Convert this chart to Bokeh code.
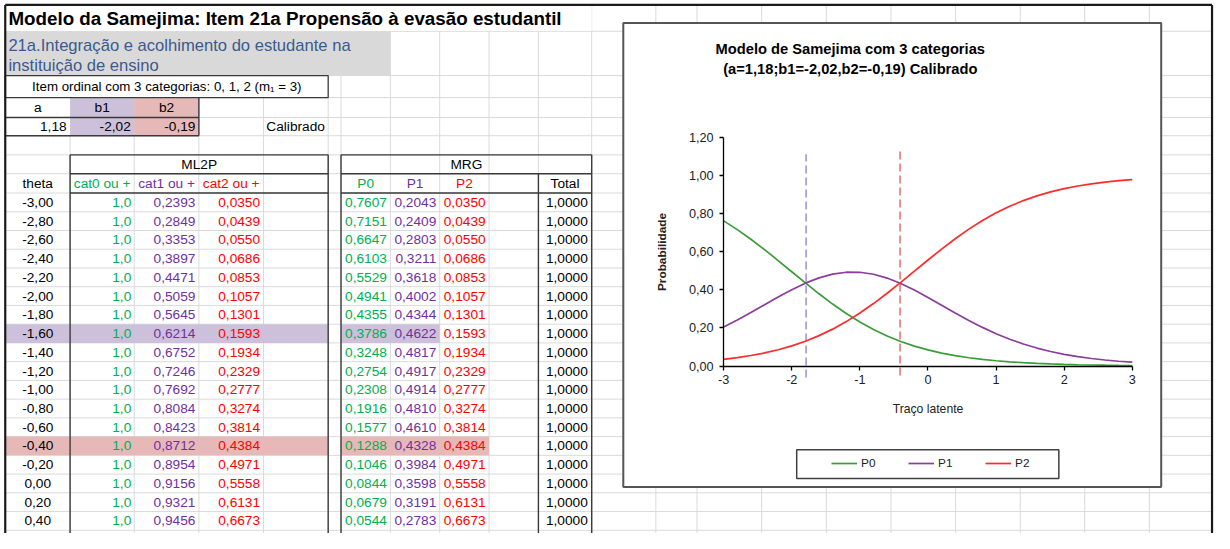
from bokeh.plotting import figure
from bokeh.models import (Range1d, LinearAxis, FixedTicker, CustomJSTickFormatter,
                          Legend, LegendItem, ColumnDataSource)
from bokeh.core.properties import value
from bokeh.embed import file_html
from bokeh.resources import INLINE

# ---------------------------------------------------------------- data
sheet_title = "Modelo da Samejima: Item 21a Propensão à evasão estudantil"
item_desc = ["21a.Integração e acolhimento do estudante na", "instituição de ensino"]
item_note = "Item ordinal com 3 categorias: 0, 1, 2 (m\u2081 = 3)"
param_names = ["a", "b1", "b2"]
param_values = [1.18, -2.02, -0.19]
param_status = "Calibrado"

table_theta = [-3.0, -2.8, -2.6, -2.4, -2.2, -2.0, -1.8, -1.6, -1.4, -1.2,
               -1.0, -0.8, -0.6, -0.4, -0.2, 0.0, 0.2, 0.4]
cat0 = [1.0, 1.0, 1.0, 1.0, 1.0, 1.0, 1.0, 1.0, 1.0, 1.0,
        1.0, 1.0, 1.0, 1.0, 1.0, 1.0, 1.0, 1.0]
cat1 = [0.2393, 0.2849, 0.3353, 0.3897, 0.4471, 0.5059, 0.5645, 0.6214, 0.6752, 0.7246,
        0.7692, 0.8084, 0.8423, 0.8712, 0.8954, 0.9156, 0.9321, 0.9456]
cat2 = [0.0350, 0.0439, 0.0550, 0.0686, 0.0853, 0.1057, 0.1301, 0.1593, 0.1934, 0.2329,
        0.2777, 0.3274, 0.3814, 0.4384, 0.4971, 0.5558, 0.6131, 0.6673]
total = [1.0, 1.0, 1.0, 1.0, 1.0, 1.0, 1.0, 1.0, 1.0, 1.0,
         1.0, 1.0, 1.0, 1.0, 1.0, 1.0, 1.0, 1.0]

theta = [-3.0, -2.8, -2.6, -2.4, -2.2, -2.0, -1.8, -1.6, -1.4, -1.2, -1.0,
         -0.8, -0.6, -0.4, -0.2, 0.0, 0.2, 0.4, 0.6, 0.8, 1.0,
         1.2, 1.4, 1.6, 1.8, 2.0, 2.2, 2.4, 2.6, 2.8, 3.0]
p0 = [0.7607, 0.7151, 0.6647, 0.6103, 0.5529, 0.4941, 0.4355, 0.3786, 0.3248, 0.2754, 0.2308,
      0.1916, 0.1577, 0.1288, 0.1046, 0.0844, 0.0679, 0.0544, 0.0434, 0.0346, 0.0276,
      0.0219, 0.0174, 0.0138, 0.0109, 0.0086, 0.0068, 0.0054, 0.0043, 0.0034, 0.0027]
p1 = [0.2043, 0.2409, 0.2803, 0.3211, 0.3618, 0.4002, 0.4344, 0.4622, 0.4817, 0.4917, 0.4914,
      0.4810, 0.4610, 0.4328, 0.3984, 0.3598, 0.3191, 0.2783, 0.2390, 0.2025, 0.1696,
      0.1406, 0.1155, 0.0942, 0.0763, 0.0615, 0.0494, 0.0396, 0.0316, 0.0251, 0.0200]
p2 = [0.0350, 0.0439, 0.0550, 0.0686, 0.0853, 0.1057, 0.1301, 0.1593, 0.1934, 0.2329, 0.2777,
      0.3274, 0.3814, 0.4384, 0.4971, 0.5558, 0.6131, 0.6673, 0.7175, 0.7628, 0.8029,
      0.8375, 0.8672, 0.8921, 0.9128, 0.9298, 0.9438, 0.9551, 0.9642, 0.9715, 0.9773]

cross_theta = [-1.79, -0.41]
cross_y0 = [-0.06, -0.05]
cross_y1 = [1.11, 1.13]

x_ticks = [-3, -2, -1, 0, 1, 2, 3]
y_ticks = [0.0, 0.2, 0.4, 0.6, 0.8, 1.0, 1.2]

chart_title = ["Modelo de Samejima com 3 categorias",
               "(a=1,18;b1=-2,02,b2=-0,19) Calibrado"]
series_names = ["P0", "P1", "P2"]

# ---------------------------------------------------------------- layout / style
FONT_NAME = "Liberation Sans"
FONT = value(FONT_NAME)
W, H = 1214, 533           # figure size in screen pixels
RW, RH_ = 1230, 549        # sheet coordinate space
SX, SY = W / RW, H / RH_
FS = 0.98                  # font scale

def fs(v):
    return f"{v * FS:.1f}px"

C_GREEN, C_PURPLE, C_RED = "#00b050", "#7030a0", "#ff0000"
FILL_PURPLE, FILL_PINK, FILL_GRAY = "#ccc0da", "#e6b8b7", "#d9d9d9"
GRID = "#dadada"
DARK = "#3a3a3a"

col_x = [5, 70.5, 135.5, 201, 266.5, 332, 345, 395, 445, 495, 545, 599, 664,
         705.7, 771.2, 836.7, 902.2, 967.7, 1033.2, 1098.5, 1164, 1228]
ROW0, RH = 198.3, 19.3
row_y = [5, 31.7, 77.3, 100, 120.5, 139.3, 159, 178.4] + [ROW0 + RH * k for k in range(19)]

# chart placement (sheet coordinates)
TX0, TX1 = 732.7, 1146.7     # theta = -3 .. 3
PY0, PY1 = 376.5, 140.7      # prob = 0 .. 1.2
tpp = 6.0 / (TX1 - TX0)
ppp = 1.2 / (PY0 - PY1)

p = figure(width=W, height=H, x_range=Range1d(0, RW), y_range=Range1d(RH_, 0),
           output_backend="svg", toolbar_location=None, min_border=0,
           x_axis_type=None, y_axis_type=None, outline_line_color=None,
           background_fill_color="white", border_fill_color="white")
p.extra_x_ranges = {"theta": Range1d(-3 + (0 - TX0) * tpp, -3 + (RW - TX0) * tpp)}
p.extra_y_ranges = {"prob": Range1d((PY0 - RH_) * ppp, PY0 * ppp)}

# ---------------------------------------------------------------- sheet grid
gx0, gy0, gx1, gy1 = [], [], [], []
for x in col_x[1:-1]:
    gx0.append(x); gx1.append(x); gy0.append(5); gy1.append(560)
for y in row_y[1:]:
    gx0.append(5); gx1.append(1228); gy0.append(y); gy1.append(y)
p.segment(gx0, gy0, gx1, gy1, line_color=GRID, line_width=1)

def quads(l, r, t, b, color, line=None, lw=1.3):
    p.quad(left=l, right=r, top=t, bottom=b, fill_color=color,
           line_color=line if line else None, line_width=lw)

# covers / fills
quads([5.5], [599], [5.5], [31.2], "white")
quads([5.5], [395], [31.7], [77.3], FILL_GRAY)
quads([5], [332], [77.3], [100], "white", DARK)
quads([5.5], [70.5], [100], [139.3], "white")
quads([70.5, 70.5], [135.5, 135.5], [100, 120.5], [120.5, 139.3], FILL_PURPLE)
quads([135.5, 135.5], [201, 201], [100, 120.5], [120.5, 139.3], FILL_PINK)

k1 = table_theta.index(-1.6)
k2 = table_theta.index(-0.4)
r1t, r1b = ROW0 + RH * k1, ROW0 + RH * (k1 + 1)
r2t, r2b = ROW0 + RH * k2, ROW0 + RH * (k2 + 1)
quads([5.5, 345], [332, 445], [r1t, r1t], [r1b, r1b], FILL_PURPLE)
quads([5.5, 345], [332, 495], [r2t, r2t], [r2b, r2b], FILL_PINK)

# dark borders
BOT = 560
dx0 = [5, 5, 5, 201, 70.5, 345, 70.5, 345, 70.5, 345, 70.5, 332, 345, 599, 545]
dx1 = [201, 201, 201, 201, 332, 599, 332, 599, 332, 599, 70.5, 332, 345, 599, 545]
dy0 = [100, 120.5, 139.3, 100, 159, 159, 178.4, 178.4, ROW0, ROW0, 159, 159, 159, 159, 178.4]
dy1 = [100, 120.5, 139.3, 139.3, 159, 159, 178.4, 178.4, ROW0, ROW0, BOT, BOT, BOT, BOT, BOT]
p.segment(dx0, dy0, dx1, dy1, line_color=DARK, line_width=1.4)
# outer frame of the sheet window
p.segment([4.8, 4.8, 1227.5], [4.6, 4.6, 4.6], [4.8, 1227.5, 1227.5], [560, 4.6, 560],
          line_color="#1a1a1a", line_width=2.2)

# ---------------------------------------------------------------- sheet text
def txt(xs, ys, texts, color="black", size=14, align="left", style="normal"):
    p.text(x=xs, y=ys, text=texts, text_color=color, text_font=FONT,
           text_font_size=fs(size), text_align=align, text_baseline="middle",
           text_font_style=style)

def fmt(v, n):
    return f"{v:.{n}f}".replace(".", ",")

txt([8], [18.5], [sheet_title], size=19.2, style="bold")
txt([8, 8], [46, 67], item_desc, color="#3b5a8f", size=16.9)
txt([168.5], [88.8], [item_note], size=13.6, align="center")
txt([37.75, 103, 168.25], [110.3] * 3, param_names, align="center")
txt([67, 132, 197.5], [130] * 3, [fmt(v, 2) for v in param_values], align="right")
txt([299], [130], [param_status], align="center")
txt([201.25, 472], [168.8, 168.8], ["ML2P", "MRG"], align="center")
hy = 188.4
txt([37.75], [hy], ["theta"], align="center")
txt([103], [hy], ["cat0 ou +"], color=C_GREEN, align="center")
txt([168.25], [hy], ["cat1 ou +"], color=C_PURPLE, align="center")
txt([233.75], [hy], ["cat2 ou +"], color=C_RED, align="center")
txt([370], [hy], ["P0"], color=C_GREEN, align="center")
txt([420], [hy], ["P1"], color=C_PURPLE, align="center")
txt([470], [hy], ["P2"], color=C_RED, align="center")
txt([572], [hy], ["Total"], align="center")

n = len(table_theta)
ys = [ROW0 + RH * (k + 0.5) for k in range(n)]
txt([37.75] * n, ys, [fmt(v, 2) for v in table_theta], align="center")
txt([132.5] * n, ys, [fmt(v, 1) for v in cat0], color=C_GREEN, align="right")
txt([197.5] * n, ys, [fmt(v, 4) for v in cat1], color=C_PURPLE, align="right")
txt([263] * n, ys, [fmt(v, 4) for v in cat2], color=C_RED, align="right")
txt([391.5] * n, ys, [fmt(v, 4) for v in p0[:n]], color=C_GREEN, align="right")
txt([441.5] * n, ys, [fmt(v, 4) for v in p1[:n]], color=C_PURPLE, align="right")
txt([491.5] * n, ys, [fmt(v, 4) for v in p2[:n]], color=C_RED, align="right")
txt([595] * n, ys, [fmt(v, 4) for v in total], align="right")

# ---------------------------------------------------------------- chart
p.quad(left=[631], right=[1176], top=[23.3], bottom=[501], fill_color="white",
       line_color="#555555", line_width=2)
txt([861, 861], [50, 71], chart_title, size=15, align="center", style="bold")

CR = dict(x_range_name="theta", y_range_name="prob")
p.segment(x0=cross_theta, y0=cross_y0, x1=cross_theta, y1=cross_y1,
          line_color=["#9a8fd0", "#e07070"], line_dash="8 4", line_width=1.5, **CR)
src = ColumnDataSource(dict(theta=theta, p0=p0, p1=p1, p2=p2))
r0 = p.line("theta", "p0", source=src, line_color="#3a9d3a", line_width=1.7, **CR)
r1 = p.line("theta", "p1", source=src, line_color="#8b3d9c", line_width=1.7, **CR)
r2 = p.line("theta", "p2", source=src, line_color="#ff2b2b", line_width=1.7, **CR)

xa = LinearAxis(fixed_location=0, bounds=(-3, 3), ticker=FixedTicker(ticks=x_ticks),
                formatter=CustomJSTickFormatter(code="return tick.toFixed(0)"),
                axis_label="Traço latente", **CR)
ya = LinearAxis(fixed_location=-3, bounds=(0, 1.2), ticker=FixedTicker(ticks=y_ticks),
                formatter=CustomJSTickFormatter(code="return tick.toFixed(2).replace('.', ',')"),
                axis_label="Probabilidade", **CR)
for ax in (xa, ya):
    ax.axis_line_color = "black"
    ax.axis_line_width = 1.3
    ax.major_tick_line_color = "black"
    ax.major_tick_line_width = 1.3
    ax.major_tick_in = 0
    ax.major_tick_out = 4
    ax.minor_tick_line_color = None
    ax.major_label_text_font = FONT_NAME
    ax.major_label_text_font_size = fs(13)
    ax.major_label_text_color = "#222222"
    ax.axis_label_text_font = FONT_NAME
    ax.axis_label_text_color = "#222222"
xa.major_label_standoff = 5
xa.axis_label_standoff = 14
xa.axis_label_text_font_size = fs(12.5)
xa.axis_label_text_font_style = "normal"
ya.major_label_standoff = 6
ya.axis_label_standoff = 17
ya.axis_label_text_font_size = fs(12)
ya.axis_label_text_font_style = "bold"
p.add_layout(xa, "below")
p.add_layout(ya, "left")

# legend
p.quad(left=[806.7], right=[1072.3], top=[462.7], bottom=[492.3], fill_color="white",
       line_color="#404040", line_width=1.5)
leg_cx, leg_cy = 842, 476.7
legend = Legend(items=[LegendItem(label=series_names[0], renderers=[r0]),
                       LegendItem(label=series_names[1], renderers=[r1]),
                       LegendItem(label=series_names[2], renderers=[r2])],
                orientation="horizontal",
                location=(leg_cx * SX, H - leg_cy * SY - 7),
                padding=0, margin=0, spacing=31, glyph_width=26, glyph_height=14,
                label_width=16, label_height=14, label_standoff=4,
                border_line_color=None, background_fill_alpha=0,
                label_text_font=FONT_NAME, label_text_font_size=fs(12),
                label_text_color="#222222")
p.add_layout(legend)

open("out.html", "w").write(file_html(p, INLINE))
